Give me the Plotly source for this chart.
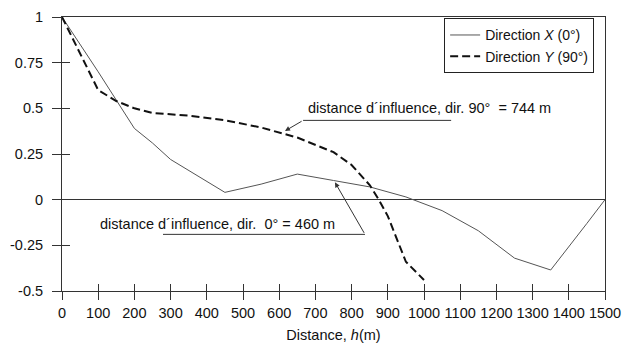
import plotly.graph_objects as go

# Direction X (0°) - solid
x_dir_x = [0, 100, 200, 250, 300, 350, 400, 450, 550, 650, 750, 850, 950, 1050, 1150, 1250, 1350, 1400, 1450, 1500]
y_dir_x = [1.0, 0.70, 0.39, 0.31, 0.22, 0.16, 0.10, 0.04, 0.085, 0.14, 0.105, 0.07, 0.015, -0.06, -0.17, -0.32, -0.385, -0.26, -0.13, 0.0]

# Direction Y (90°) - dashed
x_dir_y = [0, 100, 150, 200, 250, 350, 450, 550, 650, 750, 800, 850, 875, 900, 950, 1000]
y_dir_y = [1.0, 0.60, 0.54, 0.50, 0.475, 0.46, 0.435, 0.395, 0.34, 0.26, 0.19, 0.08, 0.0, -0.09, -0.34, -0.44]

x_ticks = list(range(0, 1501, 100))
y_ticks = [-0.5, -0.25, 0, 0.25, 0.5, 0.75, 1]
y_tick_text = ["-0.5", "-0.25", "0", "0.25", "0.5", "0.75", "1"]

label_90 = "distance d´influence, dir. 90°  = 744 m"
label_0 = "distance d´influence, dir.  0° = 460 m"

FONT = "Liberation Sans, Arial, sans-serif"
FS = 14.5

fig = go.Figure()
fig.add_trace(go.Scatter(x=x_dir_x, y=y_dir_x, mode="lines", name="Direction <i>X</i> (0°)",
                         line=dict(color="#555555", width=1)))
fig.add_trace(go.Scatter(x=x_dir_y, y=y_dir_y, mode="lines", name="Direction <i>Y</i> (90°)",
                         line=dict(color="#111111", width=2, dash="8px,4px")))
# invisible trace to activate overlay axes for inward ticks
fig.add_trace(go.Scatter(x=x_dir_x, y=y_dir_x, mode="lines", xaxis="x2", yaxis="y2",
                         line=dict(width=0), opacity=0, showlegend=False, hoverinfo="skip"))

# callout 90°
fig.add_shape(type="line", x0=666, x1=1075, y0=0.434, y1=0.434, line=dict(color="#333", width=1))
fig.add_annotation(x=616, y=0.376, ax=666, ay=0.434, axref="x", ayref="y", text="",
                   showarrow=True, arrowhead=2, arrowsize=1, arrowwidth=1, arrowcolor="#333")
fig.add_annotation(x=1014, y=0.503, text=label_90, showarrow=False,
                   font=dict(size=FS, color="#111", family=FONT))
# callout 0°
fig.add_shape(type="line", x0=279, x1=837, y0=-0.19, y1=-0.19, line=dict(color="#333", width=1))
fig.add_annotation(x=754, y=0.095, ax=837, ay=-0.19, axref="x", ayref="y", text="",
                   showarrow=True, arrowhead=2, arrowsize=1, arrowwidth=1, arrowcolor="#333")
fig.add_annotation(x=430, y=-0.132, text=label_0, showarrow=False,
                   font=dict(size=FS, color="#111", family=FONT))

axis_common = dict(showgrid=False, linecolor="#333", linewidth=1, tickcolor="#333", tickwidth=1)

fig.update_layout(
    width=636, height=350,
    margin=dict(l=62, r=31, t=9, b=58),
    paper_bgcolor="white", plot_bgcolor="white",
    font=dict(family=FONT, size=FS, color="#111"),
    showlegend=True,
    legend=dict(x=0.98, y=0.995, xanchor="right", yanchor="top", bordercolor="#222", borderwidth=1,
                bgcolor="white", font=dict(size=14), itemwidth=30, tracegroupgap=0),
    xaxis=dict(range=[0, 1500], tickvals=x_ticks, ticks="outside", ticklen=8, mirror=True,
               zeroline=False, title=dict(text="Distance, <i>h</i>(m)", standoff=9, font=dict(size=FS)),
               ticklabelstandoff=1, **axis_common),
    yaxis=dict(range=[-0.5, 1], tickvals=y_ticks, ticktext=y_tick_text, ticks="outside", ticklen=9,
               mirror=True, zeroline=True, zerolinecolor="#333", zerolinewidth=1,
               ticklabelstandoff=6, **axis_common),
    xaxis2=dict(range=[0, 1500], tickvals=x_ticks, ticks="inside", ticklen=7, overlaying="x", anchor="y",
                showticklabels=False, showline=False, showgrid=False, zeroline=False,
                tickcolor="#333", tickwidth=1),
    yaxis2=dict(range=[-0.5, 1], tickvals=y_ticks, ticks="inside", ticklen=8, overlaying="y", anchor="x",
                showticklabels=False, showline=False, showgrid=False, zeroline=False,
                tickcolor="#333", tickwidth=1),
)

fig.write_html("out.html")
